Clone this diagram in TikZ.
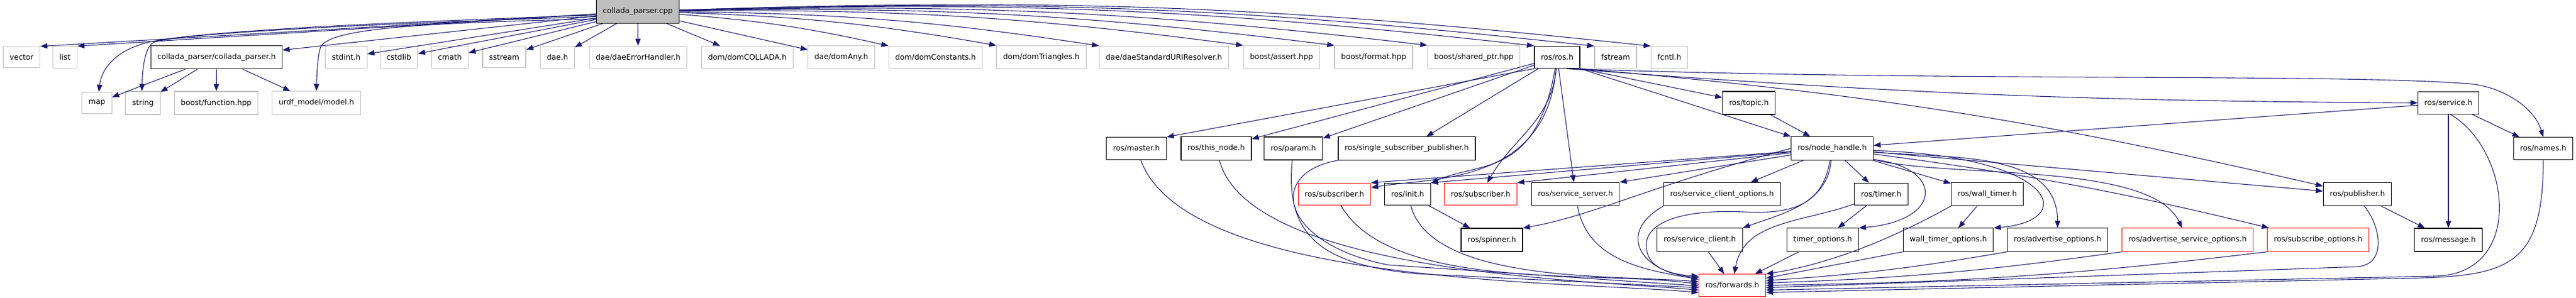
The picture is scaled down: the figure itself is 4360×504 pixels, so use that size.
\documentclass[tikz,border=0pt]{standalone}
\usepackage{fontspec}
\setmainfont{DejaVu Sans}
\usetikzlibrary{arrows.meta}
\definecolor{edgeblue}{RGB}{25,25,112}
\definecolor{boxgray}{RGB}{191,191,191}

\begin{document}
\begin{tikzpicture}[x=0.25pt, y=0.25pt,
  filebox/.style={rectangle, draw=black, fill=white, line width=0.3pt, minimum height=7pt, inner xsep=2.75pt, font=\fontsize{3.175}{3.8}\selectfont},
  sysbox/.style={filebox, draw=boxgray},
  cutbox/.style={filebox, draw=red},
  rootbox/.style={filebox, fill=boxgray},
  incl/.style={-{Triangle[length=3pt,width=2.25pt]}, draw=edgeblue, line width=0.275pt}]
\path[use as bounding box, fill=white] (0,0) rectangle (4360,504);

\node[rootbox] (cpp) at (1079.5,484.5) {collada\_parser.cpp};

\node[sysbox] (vec) at (36.5,407) {vector};
\node[sysbox] (lst) at (110,407) {list};
\node[filebox] (cparh) at (366.5,407) {collada\_parser/collada\_parser.h};
\node[sysbox] (stdint) at (586,407) {stdint.h};
\node[sysbox] (cstdlib) at (675,407) {cstdlib};
\node[sysbox] (cmath) at (761.5,407) {cmath};
\node[sysbox] (sstream) at (853.5,407) {sstream};
\node[sysbox] (dae) at (943.5,407) {dae.h};
\node[sysbox] (daeerr) at (1080,407) {dae/daeErrorHandler.h};
\node[sysbox] (domcol) at (1265,407) {dom/domCOLLADA.h};
\node[sysbox] (domany) at (1424,407) {dae/domAny.h};
\node[sysbox] (domconst) at (1583.5,407) {dom/domConstants.h};
\node[sysbox] (domtri) at (1762.5,407) {dom/domTriangles.h};
\node[sysbox] (daeuri) at (1970,407) {dae/daeStandardURIResolver.h};
\node[sysbox] (bassert) at (2169,407) {boost/assert.hpp};
\node[sysbox] (bformat) at (2325,407) {boost/format.hpp};
\node[sysbox] (bshared) at (2494.5,407) {boost/shared\_ptr.hpp};
\node[filebox] (ros) at (2635.5,407) {ros/ros.h};
\node[sysbox] (fstream) at (2734.5,407) {fstream};
\node[sysbox] (fcntl) at (2825.5,407) {fcntl.h};

\node[sysbox] (map) at (164,329.5) {map};
\node[sysbox] (str) at (242,329.5) {string};
\node[sysbox] (bfunc) at (366,329.5) {boost/function.hpp};
\node[sysbox] (urdf) at (535.5,329.5) {urdf\_model/model.h};
\node[filebox] (topic) at (2960,329.5) {ros/topic.h};
\node[filebox] (service) at (4144,329.5) {ros/service.h};

\node[filebox] (master) at (1923.5,252.5) {ros/master.h};
\node[filebox] (thisnode) at (2058.5,252.5) {ros/this\_node.h};
\node[filebox] (param) at (2189,252.5) {ros/param.h};
\node[filebox] (ssp) at (2381,252.5) {ros/single\_subscriber\_publisher.h};
\node[filebox] (nh) at (3101,252.5) {ros/node\_handle.h};
\node[filebox] (names) at (4304.5,252.5) {ros/names.h};

\node[cutbox] (suba) at (2258.5,175) {ros/subscriber.h};
\node[filebox] (init) at (2382.5,175) {ros/init.h};
\node[cutbox] (subb) at (2506,175) {ros/subscriber.h};
\node[filebox] (srvserver) at (2666.5,175) {ros/service\_server.h};
\node[filebox] (scopts) at (2914.5,175) {ros/service\_client\_options.h};
\node[filebox] (timer) at (3184,175) {ros/timer.h};
\node[filebox] (wtimer) at (3363.5,175) {ros/wall\_timer.h};
\node[filebox] (pub) at (3990,175) {ros/publisher.h};

\node[filebox] (spinner) at (2525,97.5) {ros/spinner.h};
\node[filebox] (sclient) at (2877,97.5) {ros/service\_client.h};
\node[filebox] (topts) at (3085,97.5) {timer\_options.h};
\node[filebox] (wtopts) at (3297.5,97.5) {wall\_timer\_options.h};
\node[filebox] (advopts) at (3482.5,97.5) {ros/advertise\_options.h};
\node[cutbox] (advsopts) at (3702.5,97.5) {ros/advertise\_service\_options.h};
\node[cutbox] (subopts) at (3923.5,97.5) {ros/subscribe\_options.h};
\node[filebox] (msg) at (4144,97.5) {ros/message.h};

\node[cutbox] (fwd) at (2932,20.5) {ros/forwards.h};

\draw[incl] (cpp) -- (vec.north east);
\draw[incl] (cpp) -- (lst.north east);
\draw[incl] (cpp.185) .. controls (700,468) and (330,452) .. (250,432) .. controls (200,420) and (172,390) .. (map.80);
\draw[incl] (cpp.187) .. controls (700,466) and (320,450) .. (262,433) .. controls (246,428) and (241,390) .. (str.95);
\draw[incl] (cpp) -- (cparh);
\draw[incl] (cpp.190) .. controls (700,465) and (560,455) .. (543,425) .. controls (537,410) and (536,370) .. (urdf.north);
\draw[incl] (cpp) -- (stdint);
\draw[incl] (cpp) -- (cstdlib);
\draw[incl] (cpp) -- (cmath);
\draw[incl] (cpp) -- (sstream);
\draw[incl] (cpp) -- (dae);
\draw[incl] (cpp) -- (daeerr);
\draw[incl] (cpp) -- (domcol);
\draw[incl] (cpp) -- (domany);
\draw[incl] (cpp) to[bend left=4] (domconst.north west);
\draw[incl] (cpp) to[bend left=4] (domtri.north west);
\draw[incl] (cpp) to[bend left=4] (daeuri.north west);
\draw[incl] (cpp) to[bend left=4] (bassert.north west);
\draw[incl] (cpp) to[bend left=4] (bformat.north west);
\draw[incl] (cpp) to[bend left=4] (bshared.north west);
\draw[incl] (cpp) to[bend left=4] (ros.north west);
\draw[incl] (cpp) to[bend left=4] (fstream.north west);
\draw[incl] (cpp) to[bend left=4] (fcntl.north west);

\draw[incl] (cparh) -- (map);
\draw[incl] (cparh) -- (str);
\draw[incl] (cparh) -- (bfunc);
\draw[incl] (cparh) -- (urdf);

\draw[incl] (ros.south west) -- (master.north east);
\draw[incl] (ros) -- (thisnode);
\draw[incl] (ros) -- (param);
\draw[incl] (ros) -- (ssp);
\draw[incl] (ros) to[out=-95,in=10,out distance=50pt,in distance=25pt] (suba);
\draw[incl] (ros) to[out=-100,in=25,out distance=47.5pt,in distance=22.5pt] (init);
\draw[incl] (ros) to[out=-95,in=60] (subb);
\draw[incl] (ros) -- (srvserver);
\draw[incl] (ros.south east) -- (topic);
\draw[incl] (ros.south east) -- (nh.north west);
\draw[incl] (ros.-50) to[bend right=2] (service);
\draw[incl] (ros.south east) to[bend left=4] (pub);
\draw[incl] (ros.-50) .. controls (3300,365) and (3950,380) .. (4180,362) .. controls (4240,356) and (4290,320) .. (names.north);

\draw[incl] (topic) -- (nh);

\draw[incl] (service) -- (nh);
\draw[incl] (service) -- (names);
\draw[incl] (service) -- (msg);
\draw[incl] (service.-80) .. controls (4250,250) and (4275,38) .. (4120,36) -- (fwd.-8);

\draw[incl] (names.south) .. controls (4305,60) and (4250,38) .. (4100,33) -- (fwd.-12);

\draw[incl] (pub) -- (msg);
\draw[incl] (pub.-60) .. controls (4030,120) and (4040,56) .. (3990,52) -- (fwd.-4);

\draw[incl] (nh) -- (suba.north east);
\draw[incl] (nh) -- (init.north east);
\draw[incl] (nh) -- (subb.north east);
\draw[incl] (nh) -- (srvserver.north east);
\draw[incl] (nh.west) to[out=195,in=10,out distance=62.5pt,in distance=30pt] (spinner.north east);
\draw[incl] (nh) -- (scopts);
\draw[incl] (nh) to[out=-95,in=20] (sclient.north east);
\draw[incl] (nh) -- (timer);
\draw[incl] (nh.-15) .. controls (3290,220) and (3290,130) .. (topts.north east);
\draw[incl] (nh) -- (wtimer);
\draw[incl] (nh.-3) .. controls (3480,240) and (3520,130) .. (wtopts.north east);
\draw[incl] (nh) to[out=-5,in=90] (advopts);
\draw[incl] (nh) to[out=-15,in=115,looseness=0.6] (advsopts);
\draw[incl] (nh) to[bend left=3] (subopts);
\draw[incl] (nh) -- (pub);
\draw[incl] (nh.-100) .. controls (3085,160) and (3040,140) .. (2950,145) .. controls (2830,150) and (2770,120) .. (2790,70) .. controls (2800,45) and (2840,38) .. (fwd.165);

\draw[incl] (init) -- (spinner);
\draw[incl] (timer) -- (topts);
\draw[incl] (wtimer) -- (wtopts);

\draw[incl] (master) to[out=-70,in=175,looseness=0.6] (fwd.192);
\draw[incl] (thisnode) to[out=-75,in=175,looseness=0.6] (fwd.188);
\draw[incl] (param.-95) .. controls (2175,110) and (2230,55) .. (2400,40) -- (fwd.184);
\draw[incl] (ssp.south west) .. controls (2140,210) and (2170,90) .. (2350,55) -- (fwd.181);
\draw[incl] (suba) to[out=-60,in=172,looseness=0.7] (fwd.178);
\draw[incl] (init) to[out=-75,in=175,looseness=0.7] (fwd.174);
\draw[incl] (srvserver) to[out=-80,in=170] (fwd.170);
\draw[incl] (scopts.south west) to[out=210,in=175,looseness=1.8] (fwd.167);
\draw[incl] (sclient) -- (fwd);
\draw[incl] (timer) to[out=200,in=80] (fwd);
\draw[incl] (topts) -- (fwd);
\draw[incl] (wtimer.south west) .. controls (3240,120) and (3120,60) .. (fwd.north east);
\draw[incl] (wtopts.south west) -- (fwd.12);
\draw[incl] (advopts.south west) to[bend left=3] (fwd.8);
\draw[incl] (advsopts.south west) to[bend left=3] (fwd.4);
\draw[incl] (subopts.south west) to[bend left=3] (fwd.east);
\end{tikzpicture}
\end{document}
